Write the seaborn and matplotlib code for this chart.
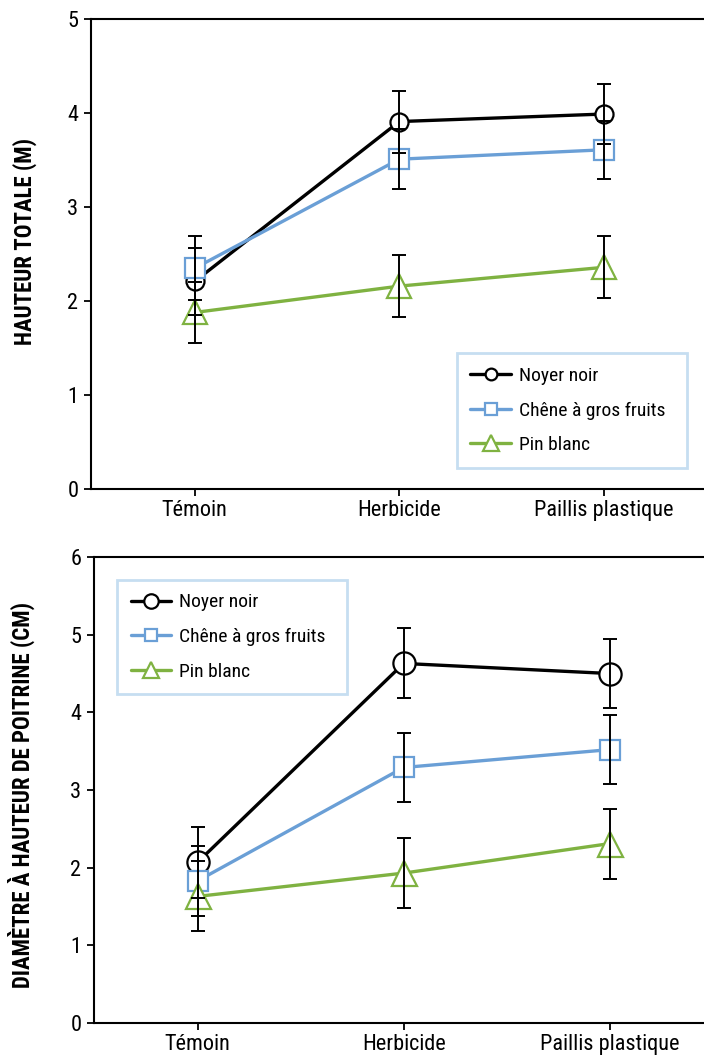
import numpy as np
import pandas as pd
import matplotlib
matplotlib.use('Agg')
import matplotlib.pyplot as plt
from matplotlib import font_manager
import seaborn as sns

# Style de base
sns.set_style('ticks')


def poids(f):
    w = f.weight
    if isinstance(w, str):
        w = font_manager.weight_dict.get(w, 400)
    return w


# Police étroite si disponible (de préférence avec une graisse grasse)
familles = {}
for f in font_manager.fontManager.ttflist:
    if 'Narrow' in f.name or 'Condensed' in f.name or f.stretch in ('condensed', 'semi-condensed'):
        familles.setdefault(f.name, set()).add(poids(f))

preferees = ['Liberation Sans Narrow', 'Roboto Condensed', 'Open Sans Condensed',
             'Noto Sans Condensed', 'DejaVu Sans Condensed']
candidats = [n for n in preferees if n in familles] + sorted(n for n in familles if n not in preferees)
avec_gras = [n for n in candidats if max(familles[n]) >= 600]

police = (avec_gras or candidats or ['DejaVu Sans'])[0]
etroite = police != 'DejaVu Sans'
police_gras = police
if not avec_gras:
    gras = [n for n in candidats if 'Bold' in n]
    if gras:
        police_gras = gras[0]

plt.rcParams['font.family'] = [police, 'DejaVu Sans']

t_ticks = 16 if etroite else 14
t_label = 16.5 if etroite else 13
t_leg = 14 if etroite else 11

plt.rcParams['xtick.labelsize'] = t_ticks
plt.rcParams['ytick.labelsize'] = t_ticks
plt.rcParams['text.color'] = 'black'
plt.rcParams['axes.labelcolor'] = 'black'
plt.rcParams['xtick.color'] = 'black'
plt.rcParams['ytick.color'] = 'black'

traitements = ['Témoin', 'Herbicide', 'Paillis plastique']
especes = ['Noyer noir', 'Chêne à gros fruits', 'Pin blanc']

# Hauteur totale (m)
hauteur_noyer = [2.21, 3.91, 3.99]
hauteur_chene = [2.35, 3.51, 3.61]
hauteur_pin = [1.88, 2.16, 2.36]
hauteur_err_noyer = [0.36, 0.33, 0.32]
hauteur_err_chene = [0.34, 0.32, 0.31]
hauteur_err_pin = [0.32, 0.33, 0.33]

# Diamètre à hauteur de poitrine (cm)
dhp_noyer = [2.07, 4.63, 4.50]
dhp_chene = [1.83, 3.29, 3.52]
dhp_pin = [1.63, 1.93, 2.31]
dhp_err_noyer = [0.46, 0.45, 0.45]
dhp_err_chene = [0.45, 0.45, 0.44]
dhp_err_pin = [0.45, 0.45, 0.45]

couleurs = ['#000000', '#6a9fd6', '#7fb241']
marqueurs = ['o', 's', '^']


def trace_panneau(ax, valeurs, erreurs, tailles, ymax, ylabel, leg_bbox, xlim, ylab_pos):
    for esp, val, coul, marq, ms in zip(especes, valeurs, couleurs, marqueurs, tailles):
        df = pd.DataFrame({'Traitement': traitements, 'Valeur': val})
        sns.lineplot(data=df, x='Traitement', y='Valeur', ax=ax, color=coul,
                     marker=marq, markersize=ms, markerfacecolor='white',
                     markeredgecolor=coul, markeredgewidth=1.6, linewidth=2.4,
                     label=esp, sort=False, zorder=3)
    for val, err in zip(valeurs, erreurs):
        ax.errorbar(traitements, val, yerr=err, fmt='none', ecolor='black',
                    elinewidth=1.4, capsize=5, capthick=1.4, zorder=4)

    ax.set_ylim(0, ymax)
    ax.set_yticks(range(0, ymax + 1))
    ax.set_xlim(*xlim)
    ax.set_xlabel('')
    ax.set_ylabel(ylabel, fontsize=t_label, fontweight='bold',
                  family=[police_gras, 'DejaVu Sans'])
    ax.yaxis.set_label_coords(*ylab_pos)
    sns.despine(ax=ax, top=False, right=True)
    for s in ['left', 'bottom', 'top']:
        ax.spines[s].set_linewidth(1.5)
        ax.spines[s].set_color('black')
    ax.tick_params(axis='both', direction='out', length=5, width=1.3, color='black')
    ax.tick_params(axis='y', pad=4)
    ax.tick_params(axis='x', pad=3)

    leg = ax.legend(loc='upper left', bbox_to_anchor=leg_bbox, mode='expand',
                    borderaxespad=0, fontsize=t_leg, frameon=True, fancybox=False,
                    framealpha=1, edgecolor='#c6def1', handlelength=2.1,
                    handletextpad=0.4, labelspacing=0.85, borderpad=0.7,
                    markerscale=0.65)
    leg.get_frame().set_linewidth(2)


fig = plt.figure(figsize=(7.04, 10.59), dpi=100)
ax1 = fig.add_axes([0.129, 0.538, 0.871, 0.444])
ax2 = fig.add_axes([0.1335, 0.034, 0.8665, 0.440])

trace_panneau(ax1,
              [hauteur_noyer, hauteur_chene, hauteur_pin],
              [hauteur_err_noyer, hauteur_err_chene, hauteur_err_pin],
              [13, 14, 17], 5, 'HAUTEUR TOTALE (M)',
              (0.597, 0.055, 0.375, 0.234), (-0.508, 2.49), (-0.088, 0.526))

trace_panneau(ax2,
              [dhp_noyer, dhp_chene, dhp_pin],
              [dhp_err_noyer, dhp_err_chene, dhp_err_pin],
              [16, 14, 18], 6, 'DIAMÈTRE À HAUTEUR DE POITRINE (CM)',
              (0.0377, 0.719, 0.377, 0.232), (-0.503, 2.458), (-0.097, 0.489))

plt.savefig('out.png', dpi=100)
